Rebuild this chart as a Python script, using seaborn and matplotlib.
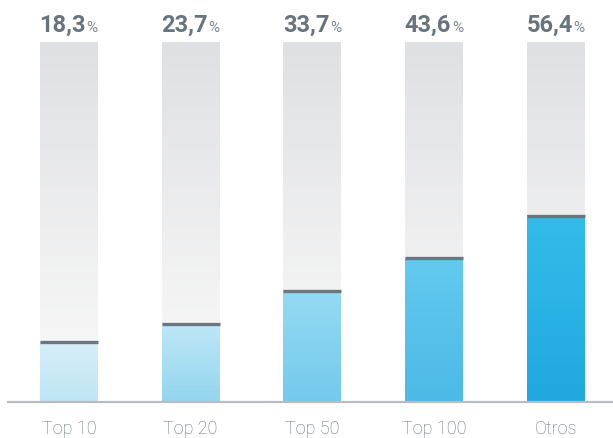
import numpy as np
import matplotlib.pyplot as plt
import seaborn as sns
from matplotlib.colors import LinearSegmentedColormap

# Datos
categorias = ["Top 10", "Top 20", "Top 50", "Top 100", "Otros"]
valores = [18.3, 23.7, 33.7, 43.6, 56.4]
etiquetas = ["18,3", "23,7", "33,7", "43,6", "56,4"]
fondo = [109, 109, 109, 109, 109]

# Colores del degradado (arriba / abajo) para cada barra
colores_arriba = ["#d8eff8", "#bde8f6", "#94dbf3", "#63caef", "#33bcea"]
colores_abajo = ["#bde5f4", "#94d5ef", "#74c9ec", "#4cb9e6", "#20a8df"]

sns.set_style("white")
plt.rcParams["font.family"] = ["Roboto", "DejaVu Sans"]

fig = plt.figure(figsize=(6.13, 4.39), dpi=100)
ax = fig.add_axes([8 / 613, 36 / 439, 605 / 613, 360 / 439])

ancho = 0.476
sns.barplot(x=categorias, y=fondo, color="#e4e5e7", width=ancho, ax=ax, zorder=1)
sns.barplot(x=categorias, y=valores, color="#4cb9e6", width=ancho, ax=ax, zorder=2)

# Degradados
grad = np.linspace(0, 1, 256).reshape(-1, 1)
cmap_fondo = LinearSegmentedColormap.from_list("fondo", ["#fbfbfb", "#dfe0e2"])
for i, p in enumerate(ax.patches):
    x0, w, h = p.get_x(), p.get_width(), p.get_height()
    if i < 5:
        cmap, z = cmap_fondo, 1
    else:
        k = i - 5
        cmap = LinearSegmentedColormap.from_list(
            f"c{k}", [colores_abajo[k], colores_arriba[k]])
        z = 2
    ax.imshow(grad, cmap=cmap, origin="lower", aspect="auto",
              extent=[x0, x0 + w, 0, h], zorder=z)
    p.set_visible(False)

# Línea superior de cada barra
xs = np.arange(len(categorias))
ax.hlines(valores, xs - ancho / 2, xs + ancho / 2, color="#6b7682", lw=2.4, zorder=3)

# Etiquetas de valor
for i in range(len(categorias)):
    ax.text(i + 0.14, 112.3, etiquetas[i], ha="right", va="baseline",
            fontsize=17, fontweight="bold", color="#68737e")
    ax.text(i + 0.145, 112.3, "%", ha="left", va="baseline",
            fontsize=11, color="#7d8791")

ax.set_xlim(-0.5, 4.469)
ax.set_ylim(0, 109)
for s in ["top", "left", "right"]:
    ax.spines[s].set_visible(False)
ax.spines["bottom"].set_color("#b8bdc2")
ax.spines["bottom"].set_linewidth(1.6)
ax.set_yticks([])
ax.tick_params(axis="x", length=0, pad=12, labelsize=13, labelcolor="#66717c")
for t in ax.get_xticklabels():
    t.set_fontweight("light")
ax.set_xlabel("")
ax.set_ylabel("")

fig.savefig("out.png", dpi=100)
